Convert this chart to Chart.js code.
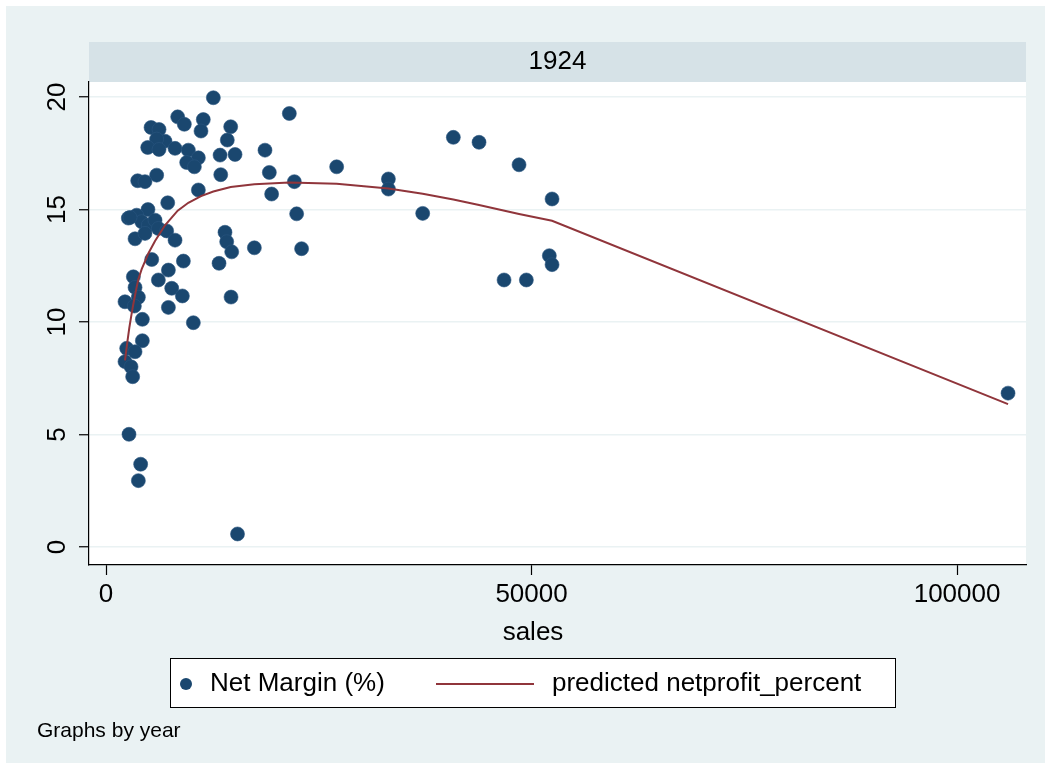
<!DOCTYPE html>
<html>
<head>
<meta charset="utf-8">
<script src="https://cdn.jsdelivr.net/npm/chart.js@4"></script>
<style>
  body { margin: 0; background: #ffffff; }
  canvas { display: block; }
</style>
</head>
<body>
<canvas id="salesChart" width="1051" height="769"></canvas>
<script>
// panel / axis text
var panelLabel = "1924";
var xTitle = "sales";
var noteText = "Graphs by year";
var xTicks = [0, 50000, 100000];
var yTicks = [0, 5, 10, 15, 20];

// scatter: sales vs net margin (%)
var sales = [
  12610, 8420, 9200, 11430, 11160, 5290, 6230, 14650, 14250, 6930,
  5950, 4900, 6230, 8110, 9670, 10850, 9480, 10380, 13400, 15160,
  13480, 5950, 3720, 4580, 10850, 7250, 4930, 2620, 3600, 4190,
  4970, 5760, 6150, 7130, 8110, 3410, 4580, 2820, 5370, 9090,
  13280, 3210, 3410, 3800, 2230, 3330, 6150, 7330, 7720, 8970,
  7330, 4270, 10260, 4270, 2430, 3410, 2230, 2940, 3130, 2700,
  4070, 3800, 21540, 18680, 19190, 22130, 19460, 22400, 13980, 14180,
  14770, 17430, 22980, 14690, 15450, 27100, 33180, 33180, 37210, 40810,
  43830, 48530, 52410, 46770, 49390, 52090, 52410, 105990
];
var netMargin = [
  19.97, 19.12, 18.79, 19.0, 18.49, 18.65, 18.56, 18.68, 18.09, 18.04,
  18.13, 17.76, 17.67, 17.72, 17.64, 17.3, 17.09, 16.9, 17.42, 17.45,
  16.55, 16.53, 16.28, 16.24, 15.87, 15.3, 15.0, 14.62, 14.75, 14.46,
  14.31, 14.53, 14.16, 14.05, 13.64, 13.7, 13.94, 14.65, 12.78, 12.71,
  12.61, 12.01, 11.54, 11.1, 10.9, 10.71, 11.87, 12.31, 11.5, 11.16,
  10.65, 10.12, 9.97, 9.17, 8.83, 8.68, 8.24, 8.01, 7.57, 5.01,
  3.68, 2.95, 19.27, 17.64, 16.65, 16.24, 15.69, 14.81, 13.99, 13.57,
  13.12, 13.3, 13.26, 11.11, 0.58, 16.9, 16.36, 15.91, 14.83, 18.21,
  17.99, 16.99, 15.47, 11.87, 11.87, 12.95, 12.55, 6.84
];

// fitted line (predicted netprofit_percent)
var fitSales = [2230, 2500, 2740, 3000, 3210, 3600, 3800, 4190, 4580, 4970,
  5760, 6930, 8420, 9670, 11160, 12610, 14650, 17430, 21540, 27100,
  33180, 37210, 40810, 43830, 48530, 52410, 105990];
var fitMargin = [8.3, 9.1, 9.75, 10.35, 10.8, 11.55, 11.9, 12.35, 12.7, 13.05,
  13.6, 14.3, 14.95, 15.3, 15.6, 15.8, 16.0, 16.12, 16.2, 16.15,
  15.94, 15.7, 15.45, 15.2, 14.8, 14.5, 6.35];

var navy = "#1a476f";
var maroon = "#90353b";
var font = "'Liberation Sans', Arial, sans-serif";

function toPoints(xs, ys) {
  return xs.map(function (x, i) { return { x: x, y: ys[i] }; });
}

var frame = {
  id: "frame",
  beforeDraw: function (chart) {
    var ctx = chart.ctx, a = chart.chartArea;
    ctx.save();
    ctx.fillStyle = "#ffffff";
    ctx.fillRect(0, 0, chart.width, chart.height);
    ctx.fillStyle = "#eaf2f3";
    ctx.fillRect(6, 6, chart.width - 12, chart.height - 12);
    ctx.fillStyle = "#ffffff";
    ctx.fillRect(a.left, a.top, a.right - a.left, a.bottom - a.top);
    ctx.fillStyle = "#d6e2e7";
    ctx.fillRect(a.left, a.top - 40, a.right - a.left, 40);
    ctx.restore();
  },
  afterDraw: function (chart) {
    var ctx = chart.ctx, a = chart.chartArea;
    ctx.save();
    ctx.fillStyle = "#000000";
    ctx.textBaseline = "middle";
    ctx.font = "26px " + font;
    ctx.textAlign = "center";
    ctx.fillText(panelLabel, (a.left + a.right) / 2, a.top - 20);
    ctx.fillText(xTitle, 533, 633);

    // legend box
    ctx.fillStyle = "#ffffff";
    ctx.fillRect(170, 658, 726, 50);
    ctx.strokeStyle = "#000000";
    ctx.lineWidth = 1;
    ctx.strokeRect(170.5, 658.5, 725, 49);
    ctx.fillStyle = navy;
    ctx.beginPath();
    ctx.arc(186, 684, 6, 0, Math.PI * 2);
    ctx.fill();
    ctx.strokeStyle = maroon;
    ctx.lineWidth = 2;
    ctx.beginPath();
    ctx.moveTo(436, 684);
    ctx.lineTo(534, 684);
    ctx.stroke();
    ctx.fillStyle = "#000000";
    ctx.textAlign = "left";
    ctx.fillText(chart.data.datasets[1].label, 210, 684);
    ctx.fillText(chart.data.datasets[0].label, 552, 684);

    ctx.font = "21px " + font;
    ctx.fillText(noteText, 37, 731);
    ctx.restore();
  }
};

var config = {
  type: "scatter",
  data: {
    datasets: [{
      type: "line",
      label: "predicted netprofit_percent",
      data: toPoints(fitSales, fitMargin),
      borderColor: maroon,
      borderWidth: 2,
      pointRadius: 0,
      fill: false,
      tension: 0,
      order: 0
    }, {
      label: "Net Margin (%)",
      data: toPoints(sales, netMargin),
      backgroundColor: navy,
      borderColor: "#2a5680",
      borderWidth: 0.6,
      pointRadius: 7,
      order: 1
    }]
  },
  options: {
    responsive: false,
    animation: false,
    devicePixelRatio: 1,
    layout: {
      padding: { top: 82, left: 0, right: 25, bottom: 159 }
    },
    plugins: {
      legend: { display: false },
      tooltip: { enabled: false }
    },
    scales: {
      x: {
        type: "linear",
        min: -2000,
        max: 108100,
        afterBuildTicks: function (s) {
          s.ticks = xTicks.map(function (v) { return { value: v }; });
        },
        afterFit: function (s) { s.height = 45; },
        border: { display: true, color: "#000000", width: 1.2 },
        grid: {
          drawOnChartArea: false,
          drawTicks: true,
          tickLength: 10,
          tickColor: "#000000",
          tickWidth: 1.2
        },
        ticks: {
          color: "#000000",
          padding: 4,
          maxRotation: 0,
          font: { family: font, size: 26 },
          callback: function (v) { return String(v); }
        }
      },
      y: {
        type: "linear",
        min: -0.8,
        max: 20.67,
        afterBuildTicks: function (s) {
          s.ticks = yTicks.map(function (v) { return { value: v }; });
        },
        afterFit: function (s) { s.width = 89; },
        border: { display: true, color: "#000000", width: 1.2 },
        grid: {
          color: "#eaf2f3",
          lineWidth: 1.5,
          drawTicks: true,
          tickLength: 10,
          tickColor: "#000000",
          tickWidth: 1.2
        },
        ticks: {
          color: "#000000",
          padding: 7,
          minRotation: 90,
          maxRotation: 90,
          crossAlign: "center",
          font: { family: font, size: 26 },
          callback: function (v) { return String(v); }
        }
      }
    }
  },
  plugins: [frame]
};

var salesChart = new Chart(document.getElementById("salesChart"), config);
</script>
</body>
</html>
